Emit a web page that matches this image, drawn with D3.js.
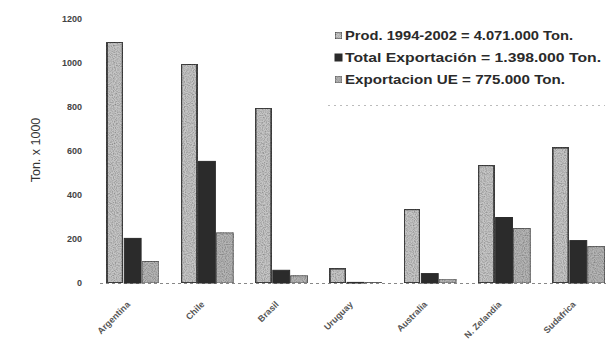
<!DOCTYPE html>
<html><head><meta charset="utf-8">
<script src="https://cdn.jsdelivr.net/npm/d3@7"></script>
<style>body{margin:0;background:#fff}svg{display:block}</style>
</head><body>
<svg id="c" width="612" height="354"></svg>
<script>
const categories = ["Argentina","Chile","Brasil","Uruguay","Australia","N. Zelandia","Sudafrica"];
const seriesNames = ["Prod. 1994-2002 = 4.071.000 Ton.","Total Exportación = 1.398.000 Ton.","Exportacion UE = 775.000 Ton."];
const prod = [1100, 1000, 800, 70, 340, 540, 620];
const totalExport = [205, 555, 60, 5, 45, 300, 195];
const exportUE = [100, 230, 35, 5, 20, 250, 168];
const yTicks = [0,200,400,600,800,1000,1200];
const yTitle = "Ton. x 1000";

const svg = d3.select("#c");
const defs = svg.append("defs");
const f = defs.append("filter").attr("id","speck").attr("x",0).attr("y",0).attr("width",1).attr("height",1);
f.append("feTurbulence").attr("type","fractalNoise").attr("baseFrequency",0.9).attr("numOctaves",1).attr("seed",3).attr("result","n");
f.append("feColorMatrix").attr("in","n").attr("type","matrix")
 .attr("values","0 0 0 0 0  0 0 0 0 0  0 0 0 0 0  0 0 0 -1.2 0.75").attr("result","a");
f.append("feComposite").attr("in","a").attr("in2","SourceGraphic").attr("operator","in").attr("result","d");
f.append("feMerge").selectAll("feMergeNode").data(["SourceGraphic","d"]).join("feMergeNode").attr("in",d=>d);

const x0 = d3.scaleBand().domain(categories).range([100,611]).paddingInner(0.28).paddingOuter(0.08);
const x1 = d3.scaleBand().domain([0,1,2]).range([0,x0.bandwidth()]).padding(0);
const y = d3.scaleLinear().domain([0,1200]).range([283,19]);

// y axis (labels only)
const ya = svg.append("g").attr("transform","translate(82,0)")
  .call(d3.axisLeft(y).tickValues(yTicks).tickSize(0).tickPadding(0).tickFormat(d3.format("d")));
ya.select(".domain").remove();
ya.selectAll("text").attr("font-family","Liberation Sans, Arial").attr("font-size",9).attr("font-weight","bold").attr("fill","#444");

svg.append("text").attr("transform","translate(40,150) rotate(-90)").attr("text-anchor","middle")
 .attr("font-family","Liberation Sans, Arial").attr("font-size",12.5).attr("fill","#333").text(yTitle);

// baseline
svg.append("line").attr("x1",100).attr("x2",606).attr("y1",283.5).attr("y2",283.5)
 .attr("stroke","#888").attr("stroke-dasharray","3,3").attr("stroke-width",1);

const series = [prod,totalExport,exportUE];
const fills = ["#c6c6c6","#2b2b2b","#b5b5b5"];
const strokes = ["#444","#2b2b2b","#666"];
const sw = [2,1,1];
const g = svg.append("g");
categories.forEach((c,i)=>{
  series.forEach((s,k)=>{
    const v = s[i];
    g.append("rect")
     .attr("x", x0(c)+x1(k)+sw[k]/2)
     .attr("y", y(v)+sw[k]/2)
     .attr("width", x1.bandwidth()-sw[k])
     .attr("height", Math.max(0.5, y(0)-y(v)-sw[k]/2))
     .attr("fill", fills[k]).attr("stroke", strokes[k]).attr("stroke-width", sw[k])
     .attr("filter", k===1 ? null : "url(#speck)");
  });
});

// x labels
const xa = svg.append("g").attr("transform","translate(0,283)")
 .call(d3.axisBottom(x0).tickSize(0).tickPadding(0));
xa.select(".domain").remove();
xa.selectAll("text").attr("text-anchor","end").attr("dy",0)
 .attr("transform","translate(-2,22) rotate(-45)")
 .attr("font-family","Liberation Sans, Arial").attr("font-size",9).attr("font-weight","bold").attr("fill","#555");

// legend
const lg = svg.append("g");
const rowsY = [39, 61, 83];
const lens = [228, 256, 220];
seriesNames.forEach((n,k)=>{
  lg.append("rect").attr("x",335).attr("y",rowsY[k]-7).attr("width",7).attr("height",7)
    .attr("fill",fills[k]).attr("stroke",strokes[k]).attr("stroke-width",1)
    .attr("filter", k===1 ? null : "url(#speck)");
  lg.append("text").attr("x",345).attr("y",rowsY[k]+1).attr("font-family","Liberation Sans, Arial")
    .attr("font-size",12).attr("font-weight","bold").attr("fill","#2a2a2a")
    .attr("textLength",lens[k]).attr("lengthAdjust","spacingAndGlyphs").text(n);
});
svg.append("line").attr("x1",328).attr("x2",605).attr("y1",105.5).attr("y2",105.5)
 .attr("stroke","#bbb").attr("stroke-dasharray","2,4");
</script>
</body></html>
